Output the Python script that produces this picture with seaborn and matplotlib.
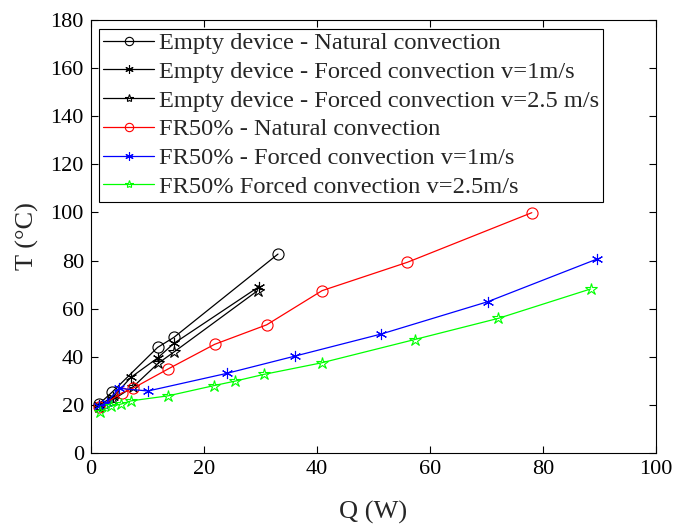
import numpy as np
import pandas as pd
import matplotlib
matplotlib.use("Agg")
import matplotlib.pyplot as plt
import seaborn as sns

sns.set_theme(style="white")
plt.rcParams['font.family'] = ['Liberation Serif', 'DejaVu Serif']
plt.rcParams['mathtext.fontset'] = 'stix'

# Data
empty_nat_q = [1.4, 3.8, 11.8, 14.7, 33.1]
empty_nat_t = [20.3, 25.4, 43.9, 48.1, 82.7]
empty_f1_q = [1.5, 4.0, 7.1, 11.8, 14.7, 29.7]
empty_f1_t = [20.0, 23.5, 31.5, 39.5, 45.6, 69.1]
empty_f25_q = [1.5, 4.0, 7.5, 11.9, 14.7, 29.5]
empty_f25_t = [19.3, 22.3, 27.6, 37.3, 42.0, 67.5]
fr_nat_q = [1.5, 5.5, 7.5, 13.7, 21.9, 31.1, 40.9, 56.0, 78.0]
fr_nat_t = [19.2, 25.0, 27.0, 35.0, 45.2, 53.3, 67.5, 79.3, 99.9]
fr_f1_q = [1.5, 2.8, 5.0, 10.1, 24.0, 36.1, 51.4, 70.2, 89.5]
fr_f1_t = [19.5, 21.0, 26.9, 25.8, 33.1, 40.3, 49.5, 62.9, 80.6]
fr_f25_q = [1.6, 3.5, 5.4, 7.1, 13.7, 21.7, 25.5, 30.6, 40.8, 57.3, 72.1, 88.4]
fr_f25_t = [17.2, 19.5, 20.4, 21.7, 23.8, 28.0, 29.9, 32.7, 37.5, 47.2, 56.0, 68.2]

labels = ["Empty device - Natural convection",
          "Empty device - Forced convection v=1m/s",
          "Empty device - Forced convection v=2.5 m/s",
          "FR50% - Natural convection",
          "FR50% - Forced convection v=1m/s",
          "FR50% Forced convection v=2.5m/s"]
x_ticks = [0, 20, 40, 60, 80, 100]
y_ticks = [0, 20, 40, 60, 80, 100, 120, 140, 160, 180]

series = [
    (empty_nat_q, empty_nat_t, 'black', 'o', 8),
    (empty_f1_q, empty_f1_t, 'black', (6, 2, 0), 8),
    (empty_f25_q, empty_f25_t, 'black', '*', 9),
    (fr_nat_q, fr_nat_t, 'red', 'o', 8),
    (fr_f1_q, fr_f1_t, 'blue', (6, 2, 0), 8),
    (fr_f25_q, fr_f25_t, '#00ff00', '*', 9),
]

fig = plt.figure(figsize=(6.73, 5.25), dpi=100)
ax = fig.add_axes([0.135, 0.137, 0.84, 0.825])

for (q, t, c, m, ms), lab in zip(series, labels):
    df = pd.DataFrame({"Q": q, "T": t})
    sns.lineplot(data=df, x="Q", y="T", ax=ax, color=c, marker=m,
                 markersize=ms, markerfacecolor='none', markeredgecolor=c,
                 markeredgewidth=0.8, linewidth=0.9, sort=False,
                 label=lab, estimator=None)

ax.set_xlim(0, 100)
ax.set_ylim(0, 180)
ax.set_xticks(x_ticks)
ax.set_yticks(y_ticks)
ax.tick_params(direction='in', length=5, width=0.8, top=True, right=True,
               labelsize=16, colors='black', pad=5)
ax.tick_params(axis='both', which='both', bottom=True, left=True)
for s in ax.spines.values():
    s.set_color('black')
    s.set_linewidth(0.8)
ax.set_xlabel("Q (W)", fontsize=19, labelpad=16)
ax.set_ylabel("T (°C)", fontsize=19, labelpad=8)

leg = ax.legend(loc='upper left', fontsize=17.6, frameon=True, fancybox=False,
                edgecolor='black', framealpha=1, handlelength=2.1,
                borderpad=0.15, labelspacing=0.27, handletextpad=0.2,
                borderaxespad=0.35)
leg.get_frame().set_linewidth(0.8)
for h in leg.legend_handles:
    h.set_markersize(6)

fig.savefig("out.png", dpi=100)
